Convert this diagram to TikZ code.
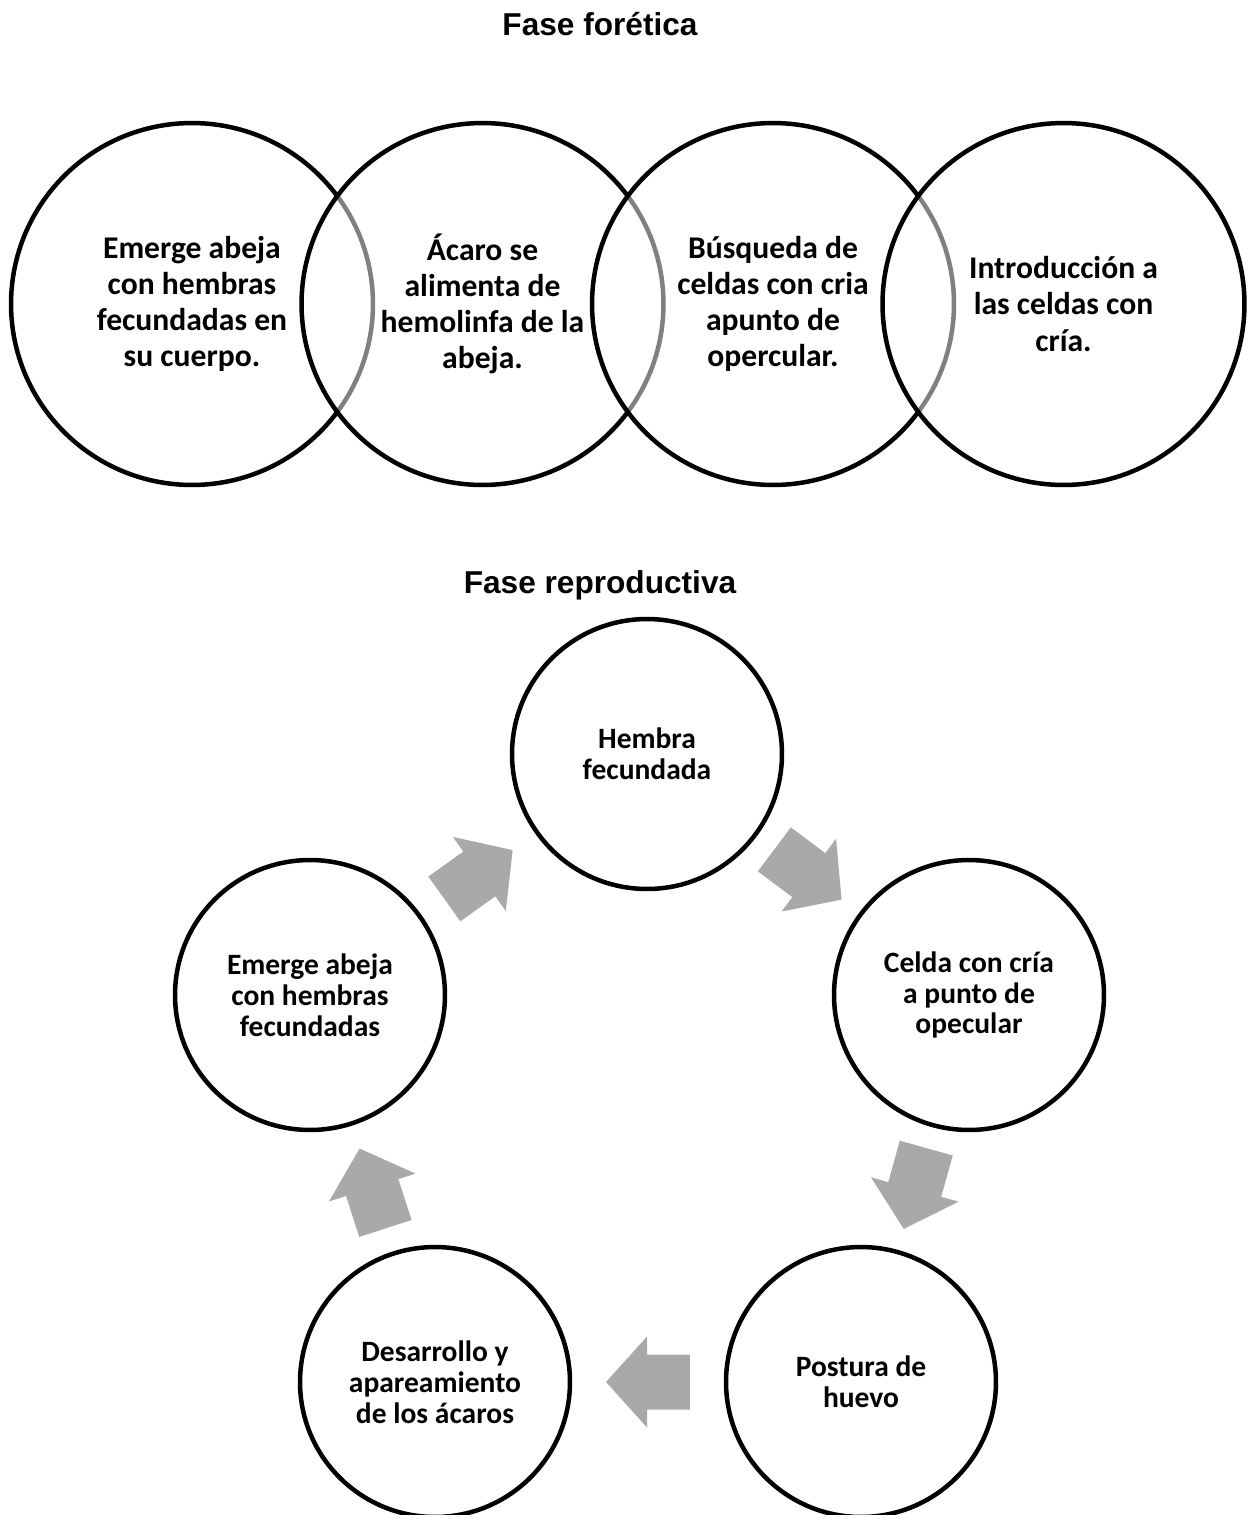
\documentclass[tikz,border=0pt]{standalone}
\usepackage{fontspec}
\setmainfont{Carlito}
\newfontfamily\titlefont{Liberation Sans}
\usepackage{tikz}
\usetikzlibrary{positioning,calc}
\definecolor{cArrow}{HTML}{A9A9A9}
\definecolor{cLine} {HTML}{000000}

\tikzset{
  bigcirc/.style={circle,draw=cLine,line width=0.09cm,minimum size=7.24cm,inner sep=0pt,
    fill=white,fill opacity=0.5,text opacity=1,align=center,
    font=\bfseries\fontsize{18}{20.5}\selectfont},
  smallcirc/.style={circle,draw=cLine,line width=0.09cm,minimum size=5.4cm,inner sep=0pt,
    fill=white,align=center,font=\bfseries\fontsize{16.8}{17.6}\selectfont},
  cycarrow/.pic={
    \fill[cArrow] (-0.84cm,-0.55cm) -- (0.02cm,-0.55cm) -- (0.02cm,-0.91cm) -- (0.84cm,0cm)
      -- (0.02cm,0.91cm) -- (0.02cm,0.55cm) -- (-0.84cm,0.55cm) -- cycle;
  },
  phase/.style={anchor=base,font=\titlefont\bfseries\fontsize{18}{21}\selectfont}
}

\begin{document}
\begin{tikzpicture}[x=0.02cm,y=-0.02cm]
  \useasboundingbox (0,0) rectangle (1250,1515);

  \node[phase] (forTitle) at (600,35) {Fase forética};
  \node[bigcirc] (emerge) at (192,304) {Emerge abeja\\con hembras\\fecundadas en\\su cuerpo.};
  \node[bigcirc] (feed) at (482.5,304) {Ácaro se\\alimenta de\\hemolinfa de la\\abeja.};
  \node[bigcirc] (search) at (773,304) {Búsqueda de\\celdas con cria\\apunto de\\opercular.};
  \node[bigcirc] (enter) at (1063.5,304) {Introducción a\\las celdas con\\cría.};

  \node[phase] (repTitle) at (600,593) {Fase reproductiva};
  \node[smallcirc] (hf) at (647,754) {Hembra\\fecundada};
  \node[smallcirc] (cc) at (969,995) {Celda con cría\\a punto de\\opecular};
  \node[smallcirc] (ph) at (861,1382) {Postura de\\huevo};
  \node[smallcirc] (da) at (435,1382) {Desarrollo y\\apareamiento\\de los ácaros};
  \node[smallcirc] (ea) at (310,995) {Emerge abeja\\con hembras\\fecundadas};

  \foreach \a/\b in {hf/cc,cc/ph,ph/da,da/ea,ea/hf}
    \path let \p1=($(\b)-(\a)$), \n1={atan2(\y1,\x1)} in
      pic[rotate=\n1] at ($(\a)!0.5!(\b)$) {cycarrow};
\end{tikzpicture}
\end{document}
